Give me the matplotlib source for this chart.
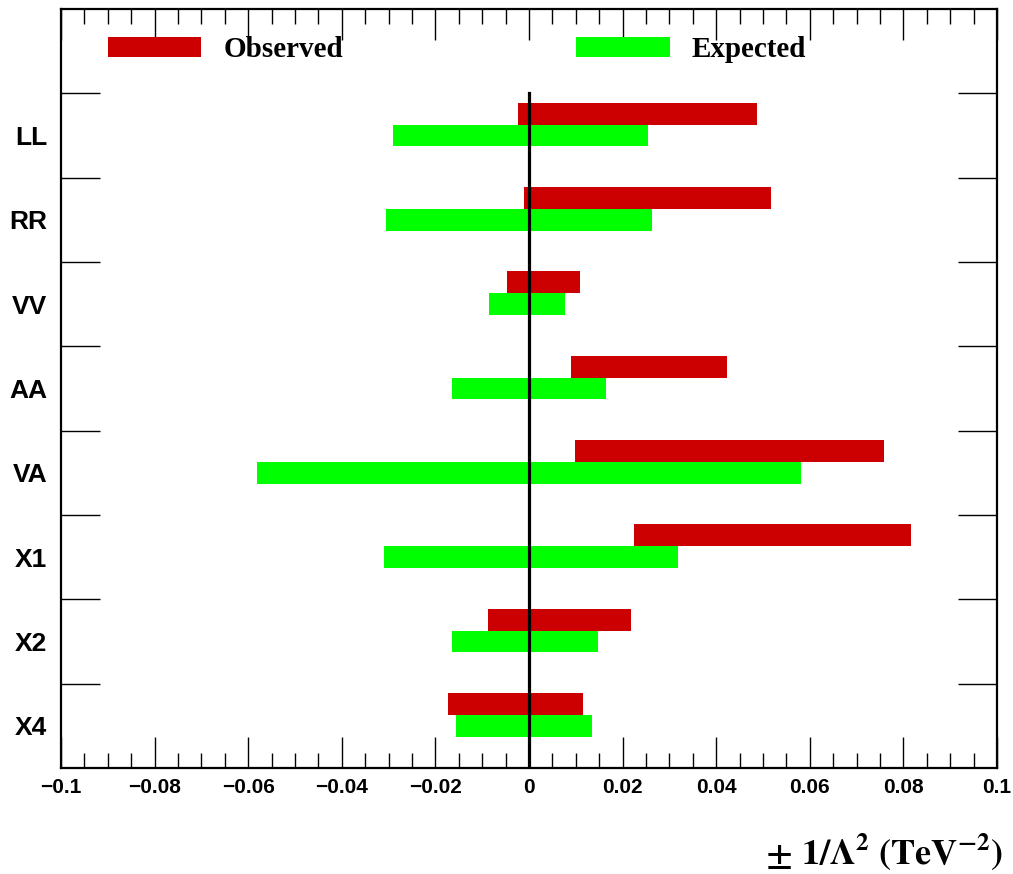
import matplotlib
matplotlib.use("Agg")
import matplotlib.pyplot as plt
import numpy as np
from matplotlib.ticker import MultipleLocator, FixedLocator, FuncFormatter
from matplotlib.patches import Patch

categories = ["LL", "RR", "VV", "AA", "VA", "X1", "X2", "X4"]
obs_low = [-0.0024, -0.0011, -0.0047, 0.0090, 0.0098, 0.0224, -0.0088, -0.0173]
obs_high = [0.0487, 0.0517, 0.0109, 0.0423, 0.0759, 0.0816, 0.0218, 0.0115]
exp_low = [-0.0291, -0.0306, -0.0085, -0.0165, -0.0581, -0.0310, -0.0165, -0.0156]
exp_high = [0.0254, 0.0263, 0.0077, 0.0165, 0.0581, 0.0318, 0.0147, 0.0135]

RED = "#cc0000"
GREEN = "#00ff00"

plt.rcParams["mathtext.fontset"] = "stix"

W, H = 1013, 874
fig = plt.figure(figsize=(W / 100, H / 100), dpi=100)
ax = fig.add_axes([61 / W, 1 - 768 / H, (997 - 61) / W, (768 - 9) / H])

n = len(categories)
centers = np.array([n - 1 - i + 0.5 for i in range(n)])
bh = 0.26

ax.barh(centers + 0.26, np.array(obs_high) - np.array(obs_low), left=obs_low,
        height=bh, color=RED, edgecolor="none", zorder=2)
ax.barh(centers, np.array(exp_high) - np.array(exp_low), left=exp_low,
        height=bh, color=GREEN, edgecolor="none", zorder=2)

ax.plot([0, 0], [0, n], color="black", lw=2.3, zorder=3)

ax.set_xlim(-0.1, 0.1)
ax.set_ylim(0, n + 1)

ax.xaxis.set_major_locator(MultipleLocator(0.02))
ax.xaxis.set_minor_locator(MultipleLocator(0.005))

def fmt(v, pos):
    if abs(v) < 1e-9:
        return "0"
    s = ("%.2f" % v).rstrip("0")
    return s.replace("-", "\u2212")

ax.xaxis.set_major_formatter(FuncFormatter(fmt))
ax.tick_params(axis="x", which="major", direction="in", length=22, width=1.0,
               top=True, bottom=True, labelsize=15, pad=7)
ax.tick_params(axis="x", which="minor", direction="in", length=11, width=1.0,
               top=True, bottom=True)

ax.yaxis.set_major_locator(FixedLocator(np.arange(1, n + 1)))
ax.yaxis.set_major_formatter(FuncFormatter(lambda v, p: ""))
ax.set_yticks(centers, labels=categories, minor=True)
ax.tick_params(axis="y", which="major", direction="in", length=28, width=1.0,
               left=True, right=True)
ax.tick_params(axis="y", which="minor", length=0, labelsize=19, pad=10)

for lab in ax.get_xticklabels() + ax.get_yticklabels(minor=True):
    lab.set_fontfamily("Liberation Sans")
    lab.set_fontweight("bold")

for sp in ax.spines.values():
    sp.set_linewidth(1.6)

handles = [Patch(facecolor=RED, edgecolor="none", label="Observed"),
           Patch(facecolor=GREEN, edgecolor="none", label="Expected")]
leg = fig.legend(handles=handles, loc="upper left",
                 bbox_to_anchor=(108 / W, 1 - 36 / H), ncol=2, frameon=False,
                 prop={"family": "Liberation Serif", "weight": "bold", "size": 21},
                 handlelength=3.2, handleheight=0.7, handletextpad=0.75,
                 columnspacing=8.0, borderpad=0, borderaxespad=0)

fig.text(1003 / W, 1 - 864 / H,
         r"$\mathbf{\pm\ 1/\Lambda^{2}\ (TeV^{-2})}$",
         ha="right", va="baseline", fontsize=26)

fig.savefig("out.png", dpi=100)
